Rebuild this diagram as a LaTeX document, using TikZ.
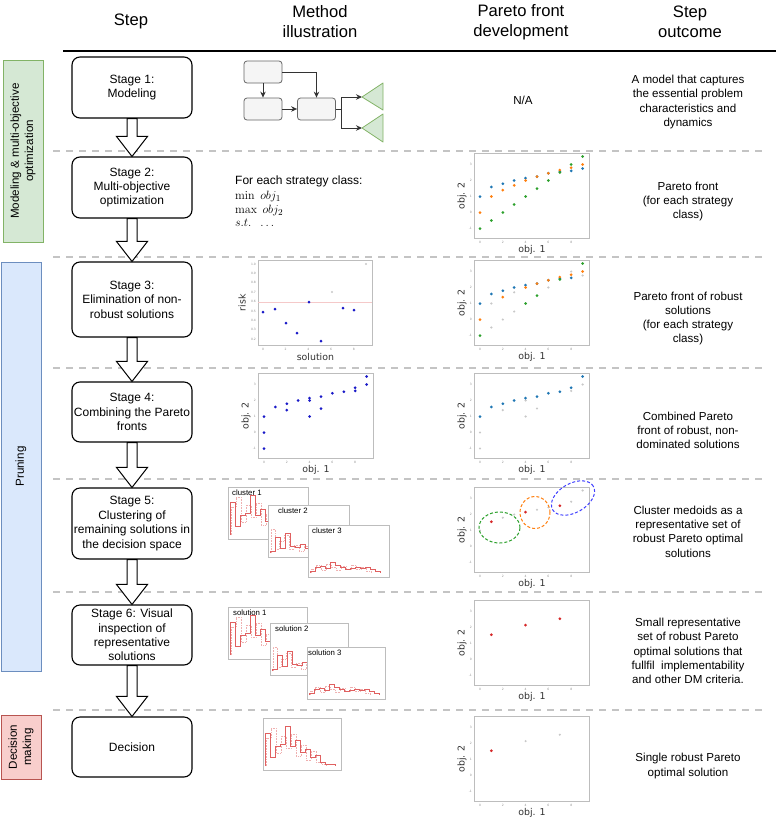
\documentclass[tikz,border=0pt]{standalone}
\usepackage[no-math]{fontspec}
\setmainfont{Liberation Sans}
\newfontfamily\djv{DejaVu Sans}
\usetikzlibrary{arrows.meta,calc,shapes.geometric}
\definecolor{gfill}{HTML}{D5E8D4}
\definecolor{gdraw}{HTML}{82B366}
\definecolor{bfill}{HTML}{DAE8FC}
\definecolor{bdraw}{HTML}{6C8EBF}
\definecolor{rfill}{HTML}{F8CECC}
\definecolor{rdraw}{HTML}{B85450}
\definecolor{dashgray}{HTML}{C4C4C4}
\definecolor{framegray}{HTML}{BDBDBD}
\definecolor{mpblue}{HTML}{1F77B4}
\definecolor{mporange}{HTML}{FF7F0E}
\definecolor{mpgreen}{HTML}{2CA02C}
\definecolor{mpred}{HTML}{D62728}
\definecolor{fadegray}{HTML}{C8C8C8}
\definecolor{darkblue}{HTML}{1A1AC8}
\definecolor{boxgray}{HTML}{F5F5F5}
\definecolor{histred}{HTML}{E06060}

\tikzset{
 stagebox/.style={draw=black, line width=1.1pt, rounded corners=8pt, fill=white, minimum width=120pt, inner sep=0pt, align=center, font=\fontsize{12}{14.4}\selectfont},
 sidebox/.style={line width=0.8pt, rotate=90, minimum height=40pt, inner sep=0pt, align=center, font=\fontsize{11.6}{14.3}\selectfont},
 headtxt/.style={align=center, font=\fontsize{16.6}{20}\selectfont, inner sep=0pt},
 outtxt/.style={align=center, font=\fontsize{11.6}{14.3}\selectfont, inner sep=0pt},
 sepline/.style={draw=dashgray, line width=1.6pt, dash pattern=on 7pt off 6pt},
 blockarr/.style={draw=black, fill=white, line width=1pt, line join=miter},
 mbox/.style={draw=black!60, fill=boxgray, rounded corners=3pt, line width=0.8pt, minimum width=38pt, minimum height=22pt, inner sep=0pt},
 marr/.style={draw=black!80, line width=0.9pt, -{Stealth[length=6pt,width=5.5pt]}},
 tri/.style={draw=gdraw, fill=gfill, line width=0.8pt, line join=round},
 cframe/.style={draw=framegray, line width=0.9pt, fill=white, inner sep=0pt},
 axlab/.style={font=\djv\fontsize{9.4}{10}\selectfont, text=black!80, inner sep=0pt},
 ticklab/.style={font=\djv\fontsize{3}{3}\selectfont, text=black!45, inner sep=0pt},
 hframe/.style={draw=framegray, line width=0.8pt, fill=white, inner sep=0pt, minimum height=52pt},
 hlab/.style={font=\fontsize{7.8}{8}\selectfont, inner sep=0pt},
 hline/.style={draw=histred, line width=0.6pt},
 hline2/.style={draw=histred!50, line width=0.6pt, densely dotted},
 elli/.style={ellipse, draw, line width=1pt, dash pattern=on 3pt off 2pt, inner sep=0pt},
 mathtxt/.style={anchor=base west, inner sep=0pt, font=\fontsize{12.6}{14.5}\selectfont},
}

\newcommand\pts[3][1.5pt]{\foreach \xa/\ya in {#3} \fill[#2] ({6+11.4*\xa}, {59.5-16*(\ya)}) circle (#1);}

\newcommand\paretochart[4]{%
 \node[cframe, anchor=north west, minimum width=115pt, minimum height=85pt] (#1) at (#2,#3) {};
 \node[axlab] at ($(#1.south)+(0,11)$) {obj. 1};
 \node[axlab, rotate=90] at ($(#1.west)+(-12,0)$) {obj. 2};
 \begin{scope}[shift={(#2,#3)}]
 \foreach \tl [count=\ti from 0] in {0,2,4,6,8} \node[ticklab] at ({6+22.8*\ti}, 89) {\tl};
 \foreach \tl in {-1,0,1,2,3} \node[ticklab, anchor=east] at (-2, {59.5-16*(\tl)}) {\tl};
 #4
 \end{scope}}

\newcommand\histo[7]{%
 \node[hframe, anchor=north west, minimum width=#4pt] (#1) at (#2,#3) {};
 \node[hlab, anchor=north west] at ($(#1.north west)+(#5,3)$) {#6};
 \begin{scope}[shift={(#2,#3)}] #7 \end{scope}}

\newcommand\profA{%
 \draw[hline2] (3,48) |- (8,20) |- (13,10) |- (18,35) |- (23,18) |- (28,30) |- (33,16) |- (38,38) |- (43,27) |- (48,42) |- (53,33) |- (58,44) |- (63,46) -- (63,48);
 \draw[hline] (2,48) |- (7,15) |- (12,39.2) |- (17,28.2) |- (22,26) |- (27,8.4) |- (32,28.2) |- (37,22.5) |- (42,33.9) |- (47,30.8) |- (52,39.2) |- (57,37) |- (62,44.5) |- (67,45.8) |- (72,46.7) -- (72,48);}
\newcommand\profB{%
 \draw[hline2] (3,48) |- (7,24) |- (11,44) |- (16,36) |- (21,30) |- (26,44) |- (31,40) |- (36,46) |- (41,41) |- (46,46) -- (46,48);
 \draw[hline] (2,48) |- (7,45.8) |- (12,32.6) |- (17,43.6) |- (22,28.2) |- (27,41.4) |- (32,42.7) |- (37,39.2) |- (42,43.6) |- (47,38.3) |- (52,45.8) |- (57,46.7) |- (62,47.1) |- (72,47.6) -- (72,48);}
\newcommand\profC{%
 \draw[hline2] (3,48) |- (8,44) |- (13,40) |- (18,45) |- (23,39) |- (28,42) |- (33,45) |- (38,41) |- (43,44) |- (48,40) |- (53,44) |- (58,42) |- (63,46) -- (63,48);
 \draw[hline] (2,48) |- (7,45.8) |- (12,42.7) |- (17,41.4) |- (22,43.6) |- (27,37) |- (32,40.1) |- (37,42.7) |- (42,44.5) |- (47,43.6) |- (52,42.7) |- (57,43.6) |- (62,42.7) |- (67,44.5) |- (72,46.7) -- (72,48);}

\newcommand\blockarrow[2]{\draw[blockarr] let \p1=(#1.south), \p2=(#2.north) in (\x1-5pt,\y1) -- (\x1+5pt,\y1) -- (\x1+5pt,\y2+20pt) -- (\x1+15.5pt,\y2+20pt) -- (\x1,\y2) -- (\x1-15.5pt,\y2+20pt) -- (\x1-5pt,\y2+20pt) -- cycle;}

\begin{document}
\begin{tikzpicture}[x=1pt, y=-1pt]
\useasboundingbox (0,0) rectangle (776,820);
\fill[white] (0,0) rectangle (776,820);

% header
\node[headtxt] (h1) at (131,21) {Step};
\node[headtxt] (h2) at (320,22) {Method\\illustration};
\node[headtxt] (h3) at (521,22) {Pareto front\\development};
\node[headtxt] (h4) at (690,22) {Step\\outcome};
\coordinate (hl) at (63,51);
\coordinate (hr) at (776,51);
\draw[line width=1.6pt] (hl) -- (hr);

% separators
\foreach \yy [count=\k] in {151,257,368,479,592,710} {
 \coordinate (dl\k) at (53,\yy);
 \coordinate (dr\k) at (767,\yy);
 \draw[sepline] (dl\k) -- (dr\k);
}

% side boxes
\node[sidebox, draw=gdraw, fill=gfill, minimum width=182pt] (g) at (23,151) {Modeling \& multi-objective\\optimization};
\node[sidebox, draw=bdraw, fill=bfill, minimum width=409pt] (b) at (21,466.5) {Pruning};
\node[sidebox, draw=rdraw, fill=rfill, minimum width=64pt] (r) at (21,747) {Decision\\making};

% stage boxes
\node[stagebox, minimum height=61pt] (s1) at (132,87.5) {Stage 1:\\Modeling};
\node[stagebox, minimum height=61pt] (s2) at (132,187.5) {Stage 2:\\Multi-objective\\optimization};
\node[stagebox, minimum height=75pt] (s3) at (132,299.5) {Stage 3:\\Elimination of non-\\robust solutions};
\node[stagebox, minimum height=60pt] (s4) at (132,412) {Stage 4:\\Combining the Pareto\\fronts};
\node[stagebox, minimum height=71pt] (s5) at (132,523.5) {Stage 5:\\Clustering of\\remaining solutions in\\the decision space};
\node[stagebox, minimum height=60pt] (s6) at (132,635) {Stage 6: Visual\\inspection of\\representative\\solutions};
\node[stagebox, minimum height=60pt] (s7) at (132,747) {Decision};
\blockarrow{s1}{s2}
\blockarrow{s2}{s3}
\blockarrow{s3}{s4}
\blockarrow{s4}{s5}
\blockarrow{s5}{s6}
\blockarrow{s6}{s7}

% stage 1 illustration
\node[mbox] (ma) at (263,72) {};
\node[mbox] (mb) at (263,109) {};
\node[mbox] (mc) at (316.5,109) {};
\draw[marr] (ma.south) -- (mb.north);
\draw[marr] (ma.east) -| (mc.north);
\draw[marr] (mb.east) -- (mc.west);
\coordinate (fork) at (341,109);
\coordinate (t1) at (362,97);
\coordinate (t2) at (362,128);
\draw[draw=black!80, line width=0.9pt] (mc.east) -- (fork);
\draw[marr] (fork) |- (t1);
\draw[marr] (fork) |- (t2);
\draw[tri] (t1) -- ++(21,-14) -- ++(0,27) -- cycle;
\draw[tri] (t2) -- ++(21,-14) -- ++(0,28) -- cycle;
\node[outtxt] (na) at (523,100) {N/A};

% stage 2 illustration
\node[anchor=base west, inner sep=0pt, font=\fontsize{12}{14}\selectfont] (m2) at (235,184.3) {For each strategy class:};
\node[mathtxt] (m2a) at (235,199.3) {$\min\ obj_1$};
\node[mathtxt] (m2b) at (235,213.3) {$\max\ obj_2$};
\node[mathtxt] (m2c) at (235,226.5) {$s.t.\ \ \ldots$};

% stage 3 risk chart
\node[cframe, anchor=north west, minimum width=114pt, minimum height=85pt] (rk) at (258,260) {};
\node[axlab, rotate=90] at ($(rk.west)+(-16,0)$) {risk};
\node[axlab] at ($(rk.south)+(0,11)$) {solution};
\begin{scope}[shift={(258,260)}]
 \draw[mpred!25, line width=0.4pt] (0,42) -- (114,42);
 \foreach \tl [count=\ti from 0] in {0,2,4,6,8} \node[ticklab] at ({5+22.7*\ti}, 89) {\tl};
 \foreach \tl in {0.2,0.3,0.4,0.5,0.6,0.7,0.8,0.9,1.0} \node[ticklab, anchor=east] at (-2, {4+94*(1-\tl)}) {\tl};
 \foreach \px/\py in {5/52,17/49,28/63,39/73,51/42,63/81,85/48,96/50} \fill[darkblue] (\px,\py) circle (1.5pt);
 \foreach \px/\py in {74/32,108/4} \fill[fadegray] (\px,\py) circle (1.2pt);
\end{scope}

% stage 4 method chart
\paretochart{m4}{258}{373}{\pts{darkblue}{0/1,0/0,0/-1,1/1.6,2/1.8,2/1.4,3/2,4/2.15,4/2,4/1,5/2.25,5/1.5,6/2.45,7/2.55,8/2.8,8/2.6,9/3.5,9/3}}

% pareto charts
\paretochart{p2}{474}{153}{%
 \pts{mpblue}{0/1,1/1.6,2/1.8,3/2,4/2.15,5/2.25,6/2.45,7/2.55,8/2.6,9/2.75}
 \pts{mporange}{0/0,1/1,2/1.4,3/1.7,4/2,5/2.25,6/2.45,7/2.65,8/2.8,9/3}
 \pts{mpgreen}{0/-1,1/-0.5,2/0,3/0.5,4/1,5/1.5,6/2,7/2.5,8/3,9/3.5}}
\paretochart{p3}{474}{260}{%
 \pts[1.2pt]{fadegray}{9/2.75,1/1,3/1.7,1/-0.5,2/0,3/0.5,6/2,8/3}
 \pts{mpblue}{0/1,1/1.6,2/1.8,3/2,4/2.15,5/2.25,6/2.45,7/2.55,8/2.6}
 \pts{mporange}{0/0,2/1.4,4/2,5/2.25,6/2.45,7/2.65,8/2.8,9/3}
 \pts{mpgreen}{0/-1,4/1,5/1.5,7/2.5,9/3.5}}
\paretochart{p4}{474}{373}{%
 \pts[1.2pt]{fadegray}{0/0,0/-1,2/1.4,4/2,4/1,5/1.5,8/2.6,9/3}
 \pts{mpblue}{0/1,1/1.6,2/1.8,3/2,4/2.15,5/2.25,6/2.45,7/2.55,8/2.8,9/3.5}}
\paretochart{p5}{474}{487}{%
 \pts[1.2pt]{fadegray}{0/1,2/1.8,3/2,5/2.3,6/2.45,8/2.8,9/3.5}
 \pts{mpred}{1/1.55,4/2.15,7/2.55}}
\node[elli, draw=mpgreen, minimum width=41pt, minimum height=31pt] (e1) at (499.5,527.5) {};
\node[elli, draw=mporange, minimum width=30pt, minimum height=32pt] (e2) at (535,512.5) {};
\node[elli, draw=blue!75, minimum width=47pt, minimum height=29pt, rotate=30] (e3) at (573,498) {};
\paretochart{p6}{474}{600}{\pts{mpred}{1/1.55,4/2.15,7/2.55}}
\paretochart{p7}{474}{716}{%
 \pts[1.2pt]{fadegray}{4/2.15,7/2.55}
 \pts{mpred}{1/1.55}}

% histograms
\histo{c1}{228}{487}{80}{4}{cluster 1}{\profA}
\histo{c2}{268}{505}{81}{10}{cluster 2}{\profB}
\histo{c3}{308}{525}{81}{4}{cluster 3}{\profC}
\histo{o1}{228}{607}{79}{5}{solution 1}{\profA}
\histo{o2}{270}{623}{78}{5}{solution 2}{\profB}
\histo{o3}{307}{647}{78}{1}{solution 3}{\profC}
\histo{dd}{263}{718}{78}{4}{}{\profA}

% outcomes
\node[outtxt] (o1t) at (688,102) {A model that captures\\the essential problem\\characteristics and\\dynamics};
\node[outtxt] (o2t) at (688,201.5) {Pareto front\\(for each strategy\\class)};
\node[outtxt] (o3t) at (688,318.5) {Pareto front of robust\\solutions\\(for each strategy\\class)};
\node[outtxt] (o4t) at (688,430.5) {Combined Pareto\\front of robust, non-\\dominated solutions};
\node[outtxt] (o5t) at (688,531.5) {Cluster medoids as a\\representative set of\\robust Pareto optimal\\solutions};
\node[outtxt] (o6t) at (688,651) {Small representative\\set of robust Pareto\\optimal solutions that\\fullfil\ \ implementability\\and other DM criteria.};
\node[outtxt] (o7t) at (688,766) {Single robust Pareto\\optimal solution};
\end{tikzpicture}
\end{document}
